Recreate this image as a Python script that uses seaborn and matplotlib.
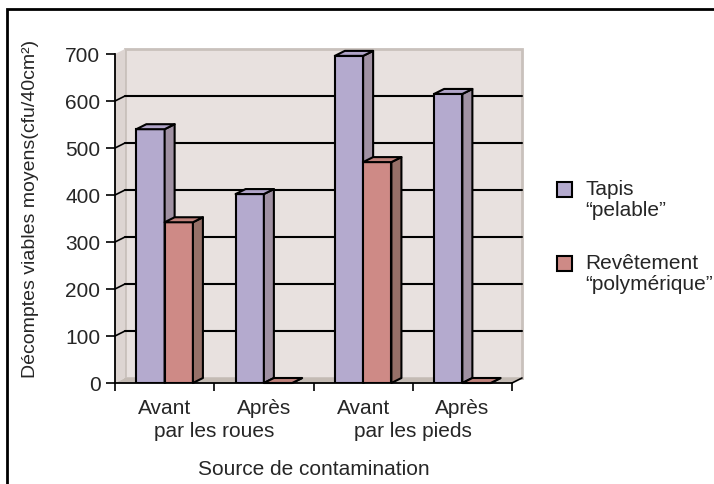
import pandas as pd
import matplotlib.pyplot as plt
import seaborn as sns
from matplotlib.patches import Polygon, Rectangle

# Data
moments = ['Avant', 'Après', 'Avant', 'Après']
sources = ['par les roues', 'par les roues', 'par les pieds', 'par les pieds']
series = ['Tapis\n“pelable”', 'Revêtement\n“polymérique”']
tapis = [540, 402, 696, 615]
revetement = [342, 0, 470, 0]

colors = ['#B4AACE', '#CE8A86']
side_colors = ['#A091A3', '#967068']
top_colors = ['#B0A4C8', '#C0827C']

cats = [m + ' ' + s for m, s in zip(moments, sources)]
df = pd.DataFrame({
    'categorie': cats * 2,
    'valeur': tapis + revetement,
    'serie': [series[0]] * 4 + [series[1]] * 4,
})

sns.set_style('white')
plt.rcParams['font.family'] = ['Liberation Sans', 'DejaVu Sans']
FS = 15

W, H = 714, 485
fig = plt.figure(figsize=(W / 100, H / 100), dpi=100)
ax = fig.add_axes([115 / W, 1 - 384 / H, 397 / W, (384 - 55) / H])
ax.set_facecolor('none')

sns.barplot(data=df, x='categorie', y='valeur', hue='serie', order=cats,
            hue_order=series, palette=colors, saturation=1, width=0.57,
            edgecolor='black', linewidth=1.5, legend=False, ax=ax)

ax.set_xlim(-0.5, 3.5)
ax.set_ylim(0, 700)

# 3D depth, in data units (10 px right, 5 px up)
ddx = 10 * 4 / 397
ddy = 5 * 700 / 329

# walls and floor
wall = Rectangle((-0.5 + ddx, ddy), 4, 700, facecolor='#E8E1DF',
                 edgecolor='#C9C1BC', linewidth=2, zorder=0.2, clip_on=False)
ax.add_patch(wall)
left_wall = Polygon([(-0.5, 0), (-0.5, 700), (-0.5 + ddx, 700 + ddy), (-0.5 + ddx, ddy)],
                    closed=True, facecolor='#DDD5D2', edgecolor='none', zorder=0.2, clip_on=False)
ax.add_patch(left_wall)
floor = Polygon([(-0.5, 0), (3.5, 0), (3.5 + ddx, ddy), (-0.5 + ddx, ddy)],
                closed=True, facecolor='#C4BBB4', edgecolor='none', zorder=0.3, clip_on=False)
ax.add_patch(floor)
ax.plot([3.5, 3.5 + ddx], [0, ddy], color='black', lw=1.2, clip_on=False, zorder=0.4)

# grid lines on back wall and left wall
for v in range(100, 700, 100):
    ax.plot([-0.5 + ddx, 3.5 + ddx], [v + ddy, v + ddy], color='black', lw=1.5,
            zorder=0.5, clip_on=False)
    ax.plot([-0.5, -0.5 + ddx], [v, v + ddy], color='black', lw=1.2,
            zorder=0.5, clip_on=False)

# side and top faces of the bars
bars = [b for b in ax.patches if isinstance(b, Rectangle) and b is not wall]
for i, b in enumerate(bars):
    k = 0 if i < 4 else 1
    z = 3 + 2 * k + (i % 4) * 0.01
    b.set_zorder(z)
    x0, w, h = b.get_x(), b.get_width(), b.get_height()
    x1 = x0 + w
    side = Polygon([(x1, 0), (x1, h), (x1 + ddx, h + ddy), (x1 + ddx, ddy)], closed=True,
                   facecolor=side_colors[k], edgecolor='black', linewidth=1.5,
                   zorder=z + 0.5, clip_on=False, joinstyle='round')
    top = Polygon([(x0, h), (x1, h), (x1 + ddx, h + ddy), (x0 + ddx, h + ddy)], closed=True,
                  facecolor=top_colors[k], edgecolor='black', linewidth=1.5,
                  zorder=z + 0.5, clip_on=False, joinstyle='round')
    ax.add_patch(side)
    ax.add_patch(top)

# axes styling
for s in ['top', 'right']:
    ax.spines[s].set_visible(False)
for s in ['left', 'bottom']:
    ax.spines[s].set_color('black')
    ax.spines[s].set_linewidth(1.3)
    ax.spines[s].set_zorder(10)

ax.set_yticks(range(0, 800, 100))
ax.tick_params(axis='y', direction='out', length=6.5, width=1.2, color='black',
               labelsize=FS, pad=4, left=True)
ax.set_xticks([-0.5, 0.5, 1.5, 2.5, 3.5])
ax.set_xticklabels([])
ax.tick_params(axis='x', which='major', direction='out', length=5.5, width=1.2,
               color='black', bottom=True)
ax.set_xticks(range(len(moments)), minor=True)
ax.set_xticklabels(moments, minor=True, fontsize=FS)
ax.tick_params(axis='x', which='minor', length=0, pad=11)
ax.set_xlabel('')
ax.set_ylabel('')

for pos in [0.5, 2.5]:
    ax.annotate(sources[int(pos + 0.5)], xy=(pos, 0), xycoords=('data', 'axes fraction'),
                xytext=(0, -34), textcoords='offset points', ha='center', va='center',
                fontsize=FS)

fig.text((115 + 512) / 2 / W, 1 - 470 / H, 'Source de contamination', ha='center',
         va='center', fontsize=FS)
fig.text(31 / W, 1 - 209 / H, 'Décomptes viables moyens(cfu/40cm²)', rotation=90,
         ha='center', va='center', fontsize=14)

# legend
for k, (lab, y) in enumerate(zip(series, [183, 257])):
    fig.patches.append(Rectangle((557 / W, 1 - (y + 15) / H), 15 / W, 15 / H,
                                 facecolor=colors[k], edgecolor='black', linewidth=1.5,
                                 transform=fig.transFigure))
    fig.text(585 / W, 1 - (y - 3) / H, lab, ha='left', va='top', fontsize=FS,
             linespacing=1.1)

# outer frame
fig.patches.append(Rectangle((7 / W, -0.1), 1.2, 1.1 - 10 / H, fill=False,
                             edgecolor='black', linewidth=2, transform=fig.transFigure))

fig.savefig('out.png', dpi=100)
